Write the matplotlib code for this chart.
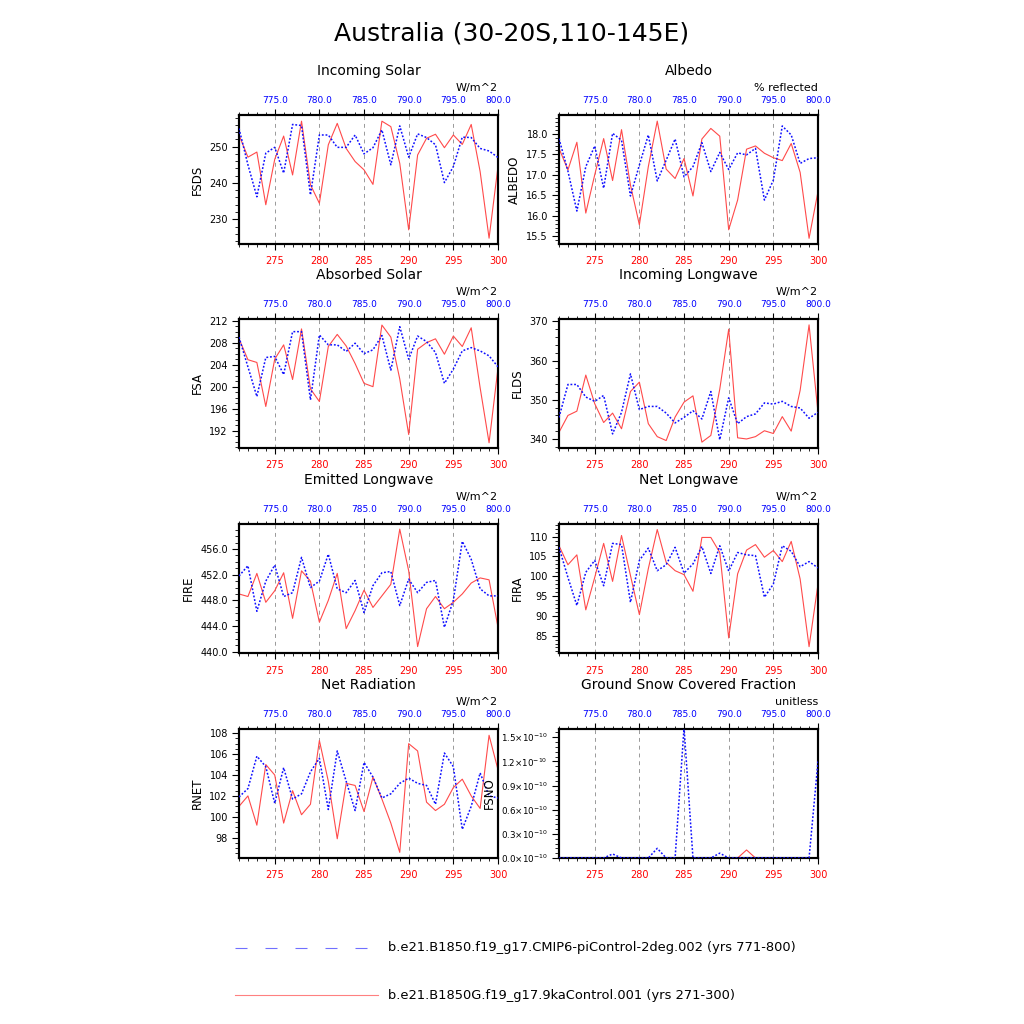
import matplotlib
matplotlib.use("Agg")
import matplotlib.pyplot as plt
from matplotlib.ticker import (MultipleLocator, FixedLocator, FormatStrFormatter,
                               AutoMinorLocator, FuncFormatter)
from matplotlib.lines import Line2D
import numpy as np

plt.rcParams['font.family'] = ['DejaVu Sans']

years_red = list(range(271, 301))
years_blue = list(range(771, 801))

fsds_red = [253.2, 247.1, 248.5, 234.0, 246.5, 252.9, 242.2, 257.0, 239.5, 234.4,
            250.5, 256.4, 249.5, 245.9, 243.6, 239.6, 257.0, 255.5, 245.4, 227.1,
            247.7, 252.3, 253.4, 249.7, 253.2, 250.6, 256.1, 243.1, 224.8, 244.5]
fsds_blue = [255.0, 245.0, 236.2, 248.2, 249.8, 242.7, 256.1, 255.8, 236.7, 253.2,
             253.2, 249.8, 249.8, 253.2, 248.0, 249.7, 254.6, 245.0, 255.7, 247.1,
             253.5, 252.5, 250.5, 240.1, 244.5, 252.6, 252.5, 249.5, 248.8, 247.0]

albedo_red = [17.65, 17.12, 17.80, 16.06, 17.00, 17.89, 16.86, 18.11, 16.75, 15.77,
              17.20, 18.32, 17.14, 16.91, 17.40, 16.48, 17.88, 18.14, 17.95, 15.65,
              16.38, 17.63, 17.71, 17.53, 17.42, 17.35, 17.77, 17.06, 15.44, 16.59]
albedo_blue = [17.89, 17.09, 16.11, 17.20, 17.71, 16.67, 18.02, 17.85, 16.48, 17.24,
               17.98, 16.85, 17.36, 17.88, 16.95, 17.20, 17.79, 17.08, 17.55, 17.13,
               17.54, 17.49, 17.65, 16.38, 16.87, 18.20, 17.98, 17.28, 17.40, 17.42]

fsa_red = [208.7, 204.9, 204.4, 196.4, 205.0, 207.6, 201.3, 210.5, 199.6, 197.3,
           207.3, 209.5, 207.4, 204.2, 200.6, 200.0, 211.2, 209.0, 201.4, 191.3,
           206.8, 208.0, 208.7, 205.9, 209.2, 207.3, 210.7, 199.8, 189.8, 203.4]
fsa_blue = [209.0, 203.6, 198.2, 205.3, 205.5, 202.2, 210.0, 210.0, 197.6, 209.4,
            207.6, 207.6, 206.4, 207.9, 206.0, 206.7, 209.3, 203.0, 210.9, 205.0,
            209.2, 208.2, 206.2, 200.6, 203.2, 206.5, 207.1, 206.5, 205.6, 203.6]

flds_red = [341.7, 346.0, 347.1, 356.3, 349.0, 344.2, 346.6, 342.6, 352.1, 354.5,
            343.9, 340.6, 339.6, 345.6, 349.4, 351.0, 339.2, 340.9, 352.7, 368.0,
            340.3, 340.0, 340.6, 342.1, 341.4, 345.7, 342.0, 352.4, 369.1, 346.8]
flds_blue = [345.5, 353.9, 353.9, 350.7, 349.6, 351.1, 341.3, 346.8, 356.6, 347.5,
             348.3, 348.3, 346.6, 344.1, 345.5, 347.2, 345.1, 352.1, 339.8, 350.5,
             343.9, 345.7, 346.4, 349.2, 348.9, 349.6, 348.3, 347.9, 345.3, 346.8]

fire_red = [449.0, 448.6, 452.2, 447.7, 449.5, 452.3, 445.2, 452.6, 451.0, 444.6,
            448.0, 452.2, 443.6, 446.4, 449.6, 446.9, 448.7, 450.5, 459.1, 452.6,
            440.8, 446.7, 448.6, 446.7, 447.7, 449.0, 450.7, 451.5, 451.2, 443.8]
fire_blue = [451.8, 453.4, 446.3, 451.0, 453.5, 448.6, 449.2, 454.7, 450.0, 451.0,
             455.2, 449.8, 449.2, 451.1, 446.1, 450.3, 452.3, 452.5, 447.2, 451.3,
             449.2, 450.8, 451.1, 443.8, 448.0, 457.2, 454.4, 449.8, 448.7, 448.7]

fira_red = [107.7, 102.9, 105.4, 91.5, 99.7, 108.3, 98.7, 110.3, 100.2, 90.3,
            101.9, 111.8, 103.5, 101.4, 100.4, 96.2, 109.8, 109.8, 106.0, 84.4,
            100.6, 106.6, 108.0, 104.8, 106.5, 103.7, 108.8, 99.3, 82.2, 98.0]
fira_blue = [107.3, 99.7, 92.6, 101.0, 104.0, 97.6, 108.3, 108.0, 93.4, 104.0,
             107.1, 101.4, 102.9, 107.3, 100.8, 103.1, 107.5, 100.7, 107.7, 101.3,
             106.0, 105.4, 105.2, 94.7, 98.0, 107.7, 106.3, 102.4, 103.7, 102.1]

rnet_red = [101.0, 102.0, 99.2, 105.0, 104.0, 99.4, 102.5, 100.2, 101.2, 107.3,
            103.4, 97.9, 103.2, 103.0, 100.5, 103.8, 101.7, 99.4, 96.6, 107.0,
            106.3, 101.4, 100.6, 101.2, 102.8, 103.6, 102.0, 100.8, 107.8, 104.5]
rnet_blue = [101.9, 102.7, 105.8, 104.8, 101.3, 104.7, 101.7, 102.2, 104.3, 105.6,
             100.7, 106.3, 103.4, 100.6, 105.2, 103.8, 101.8, 102.2, 103.2, 103.7,
             103.2, 103.0, 101.2, 106.1, 104.8, 98.8, 101.0, 104.2, 102.0, 101.8]

fsno_red = [0, 0, 0, 0, 0, 0, 0, 0, 0, 0,
            0, 0, 0, 0, 0, 0, 0, 0, 0, 0,
            0, 0.10e-10, 0, 0, 0, 0, 0, 0, 0, 0]
fsno_blue = [0, 0, 0, 0, 0, 0, 0.05e-10, 0, 0, 0,
             0, 0.12e-10, 0, 0, 1.62e-10, 0, 0, 0, 0.06e-10, 0,
             0, 0, 0, 0, 0, 0, 0, 0, 0, 1.2e-10]

panels = [
    dict(title="Incoming Solar", units="W/m^2", ylabel="FSDS", red=fsds_red, blue=fsds_blue,
         ylim=(223.2, 258.7), yticks=[230, 240, 250], minor=5, fmt="%d"),
    dict(title="Albedo", units="% reflected", ylabel="ALBEDO", red=albedo_red, blue=albedo_blue,
         ylim=(15.30, 18.47), yticks=[15.5, 16.0, 16.5, 17.0, 17.5, 18.0], minor=5, fmt="%.1f"),
    dict(title="Absorbed Solar", units="W/m^2", ylabel="FSA", red=fsa_red, blue=fsa_blue,
         ylim=(188.85, 212.3), yticks=[192, 196, 200, 204, 208, 212], minor=4, fmt="%d"),
    dict(title="Incoming Longwave", units="W/m^2", ylabel="FLDS", red=flds_red, blue=flds_blue,
         ylim=(337.7, 370.6), yticks=[340, 350, 360, 370], minor=5, fmt="%d"),
    dict(title="Emitted Longwave", units="W/m^2", ylabel="FIRE", red=fire_red, blue=fire_blue,
         ylim=(439.8, 459.9), yticks=[440, 444, 448, 452, 456], minor=4, fmt="%.1f"),
    dict(title="Net Longwave", units="W/m^2", ylabel="FIRA", red=fira_red, blue=fira_blue,
         ylim=(80.6, 113.2), yticks=[85, 90, 95, 100, 105, 110], minor=5, fmt="%d"),
    dict(title="Net Radiation", units="W/m^2", ylabel="RNET", red=rnet_red, blue=rnet_blue,
         ylim=(96.06, 108.4), yticks=[98, 100, 102, 104, 106, 108], minor=4, fmt="%d"),
    dict(title="Ground Snow Covered Fraction", units="unitless", ylabel="FSNO", red=fsno_red,
         blue=fsno_blue, ylim=(0, 1.603e-10),
         yticks=[0.0, 0.3e-10, 0.6e-10, 0.9e-10, 1.2e-10, 1.5e-10], minor=5, fmt="sci"),
]

RED = "#ff4a4a"
BLUE = "#1010ff"

fig = plt.figure(figsize=(10.24, 10.24), dpi=100)
fig.text(0.5, 0.967, "Australia (30-20S,110-145E)", ha="center", va="center", fontsize=18)

lefts = [239 / 1024, 559 / 1024]
width = 259 / 1024
tops = [115, 319, 524, 729]
height = 129 / 1024

for i, p in enumerate(panels):
    r, c = divmod(i, 2)
    ax = fig.add_axes([lefts[c], 1 - (tops[r] + 129) / 1024, width, height])
    ax.plot(years_red, p["red"], color=RED, lw=0.8, zorder=3)
    ax.set_xlim(271, 300)
    ax.set_ylim(*p["ylim"])
    for xv in [275, 280, 285, 290, 295]:
        ax.axvline(xv, color="#999999", lw=0.7, ls=(0, (4, 4)), zorder=1)
    ax.xaxis.set_major_locator(FixedLocator([275, 280, 285, 290, 295, 300]))
    ax.xaxis.set_minor_locator(FixedLocator(list(range(271, 301))))
    yt = p["yticks"]
    step = yt[1] - yt[0]
    ax.yaxis.set_major_locator(FixedLocator(yt))
    mstep = step / p["minor"]
    lo, hi = p["ylim"]
    minors = [v for v in np.arange(yt[0] - 10 * step, yt[-1] + 10 * step, mstep)
              if lo <= v <= hi]
    ax.yaxis.set_minor_locator(FixedLocator(minors))
    if p["fmt"] == "sci":
        ax.yaxis.set_major_formatter(FuncFormatter(
            lambda v, pos: r"%.1f$\times$10$^{-10}$" % (v / 1e-10)))
        ylab_size = 6.3
    else:
        ax.yaxis.set_major_formatter(FormatStrFormatter(p["fmt"]))
        ylab_size = 7
    ax.tick_params(axis="x", which="both", direction="out", colors="black",
                   labelcolor="red", labelsize=7, top=False, pad=4.5)
    ax.tick_params(axis="x", which="major", length=4.5)
    ax.tick_params(axis="x", which="minor", length=2.5)
    ax.tick_params(axis="y", which="major", direction="out", length=5, labelsize=ylab_size,
                   right=False, pad=3)
    ax.tick_params(axis="y", which="minor", direction="out", length=3, right=False)
    ax.set_ylabel(p["ylabel"], fontsize=8.5, labelpad=4)
    for s in ax.spines.values():
        s.set_linewidth(1.5)

    ax2 = ax.twiny()
    ax2.plot(years_blue, p["blue"], color=BLUE, lw=1.1, ls=(0, (1.2, 1.2)), zorder=4)
    ax2.set_xlim(771, 800)
    ax2.xaxis.set_major_locator(FixedLocator([775, 780, 785, 790, 795, 800]))
    ax2.xaxis.set_minor_locator(FixedLocator(list(range(771, 801))))
    ax2.xaxis.set_major_formatter(FormatStrFormatter("%.1f"))
    ax2.tick_params(axis="x", which="both", direction="out", labelcolor="blue",
                    labelsize=6.5, pad=3)
    ax2.tick_params(axis="x", which="major", length=4.5)
    ax2.tick_params(axis="x", which="minor", length=2.5)
    for s in ax2.spines.values():
        s.set_linewidth(1.5)

    ax.set_title(p["title"], fontsize=10, pad=29)
    ax.text(1.0, 1.168, p["units"], transform=ax.transAxes, ha="right", va="bottom", fontsize=8)

# legend
y1 = 1 - 948 / 1024
y2 = 1 - 995 / 1024
fig.add_artist(Line2D([235 / 1024, 375 / 1024], [y1, y1], color="#7070ff", lw=0.8,
                      ls=(0, (10.8, 16.2)), transform=fig.transFigure))
fig.add_artist(Line2D([235 / 1024, 378 / 1024], [y2, y2], color="#ff8080", lw=0.8,
                      transform=fig.transFigure))
fig.text(388 / 1024, y1, "b.e21.B1850.f19_g17.CMIP6-piControl-2deg.002 (yrs 771-800)",
         ha="left", va="center", fontsize=9.4)
fig.text(388 / 1024, y2, "b.e21.B1850G.f19_g17.9kaControl.001 (yrs 271-300)",
         ha="left", va="center", fontsize=9.4)

fig.savefig("out.png", dpi=100)
